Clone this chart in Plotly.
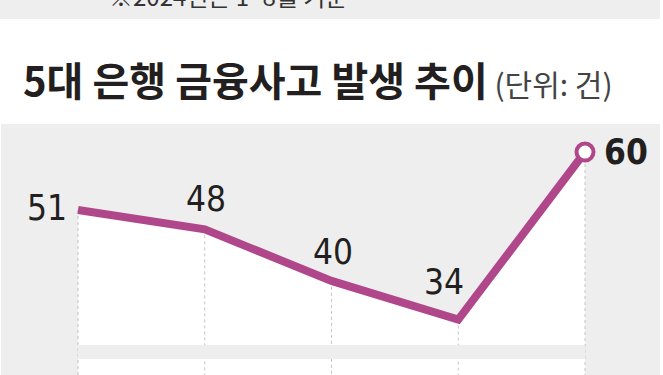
import plotly.graph_objects as go

# ---- data ----
categories = ["2020", "2021", "2022", "2023", "2024"]
values = [51, 48, 40, 34, 60]
title_main = "5대 은행 금융사고 발생 추이"
title_unit = "(단위: 건)"
top_note = "※2024년은 1~8월 기준"

# ---- styles ----
LINE_COLOR = "#b0478b"
PANEL = "#eeeeee"
TEXT = "#231f20"
NUM_FONT = "Liberation Sans Narrow, DejaVu Sans Condensed, Roboto Condensed, Liberation Sans, sans-serif"
KR_FONT = "Noto Sans CJK KR, Noto Sans, sans-serif"

Y_MIN, Y_MAX = 25.4, 64.35
X_MIN, X_MAX = -0.6075, 4.5917

xs = list(range(len(values)))

fig = go.Figure()

# white area under the line
fig.add_trace(go.Scatter(
    x=xs, y=values, mode="lines", fill="tozeroy",
    fillcolor="white", line=dict(width=0), hoverinfo="skip", showlegend=False))

# dotted vertical guides from each point down
gx, gy = [], []
for i, v in zip(xs, values):
    gx += [i, i, None]
    gy += [v, Y_MIN, None]
fig.add_trace(go.Scatter(
    x=gx, y=gy, mode="lines",
    line=dict(color="#c4c4c4", width=1, dash="dot"),
    hoverinfo="skip", showlegend=False))

# main line
fig.add_trace(go.Scatter(
    x=xs, y=values, mode="lines",
    line=dict(color=LINE_COLOR, width=8),
    hoverinfo="skip", showlegend=False))

# end marker
fig.add_trace(go.Scatter(
    x=[xs[-1]], y=[values[-1]], mode="markers",
    marker=dict(size=17, color="white", line=dict(color=LINE_COLOR, width=4)),
    hoverinfo="skip", showlegend=False))

# value labels
offsets = [(-31, 2), (1, 30), (1, 29), (-14, 38), (41, 0)]
for i, (v, (dx, dy)) in enumerate(zip(values, offsets)):
    last = i == len(values) - 1
    fig.add_annotation(
        x=xs[i], y=v, text=f"<b>{v}</b>" if last else str(v),
        showarrow=False, xshift=dx, yshift=dy,
        font=dict(family=NUM_FONT, size=35, color=TEXT))

# separating band near the bottom
fig.add_shape(type="rect", xref="x", yref="y",
              x0=xs[0], x1=xs[-1], y0=27.9, y1=30.05,
              fillcolor=PANEL, line=dict(width=0), layer="above")

# top grey strip (cut-off note from the previous section)
fig.add_shape(type="rect", xref="paper", yref="paper",
              x0=-0.0015, x1=1.0, y0=1.418, y1=1.6,
              fillcolor=PANEL, line=dict(width=0), layer="below")
fig.add_annotation(xref="paper", yref="paper", x=0.345, y=1.51,
                   text=top_note, showarrow=False, yanchor="middle",
                   font=dict(family=KR_FONT, size=24, color="#333333"))

# title
fig.add_annotation(xref="paper", yref="paper", x=0.031, y=1.18,
                   xanchor="left", yanchor="middle", showarrow=False,
                   text=f"<b>{title_main}</b><span style='font-size:30px;color:#444444'> {title_unit}</span>",
                   font=dict(family=KR_FONT, size=40, color=TEXT))

fig.update_layout(
    width=663, height=375,
    margin=dict(l=1, r=3, t=124, b=0),
    paper_bgcolor="white", plot_bgcolor=PANEL,
    xaxis=dict(range=[X_MIN, X_MAX], showgrid=False, zeroline=False,
               showticklabels=False, fixedrange=True),
    yaxis=dict(range=[Y_MIN, Y_MAX], showgrid=False, zeroline=False,
               showticklabels=False, fixedrange=True),
    showlegend=False,
)

fig.write_html("out.html")
